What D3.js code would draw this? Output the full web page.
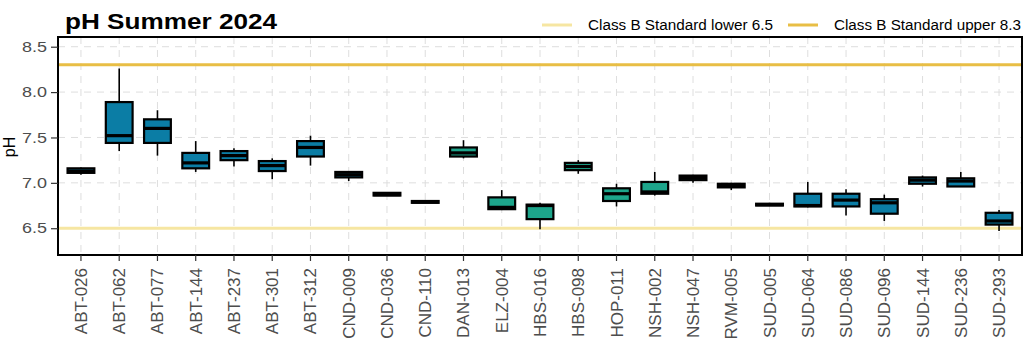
<!DOCTYPE html>
<html><head><meta charset="utf-8">
<script src="https://cdn.jsdelivr.net/npm/d3@7"></script>
<style>body{margin:0;background:#fff;} svg{display:block;font-family:"Liberation Sans",Arial,sans-serif;}</style>
</head><body><svg id="c" width="1024" height="343"></svg>
<script>
const sites = ["ABT-026","ABT-062","ABT-077","ABT-144","ABT-237","ABT-301","ABT-312","CND-009","CND-036","CND-110","DAN-013","ELZ-004","HBS-016","HBS-098","HOP-011","NSH-002","NSH-047","RVM-005","SUD-005","SUD-064","SUD-086","SUD-096","SUD-144","SUD-236","SUD-293"];
const mins    = [7.09,7.35,7.30,7.12,7.18,7.04,7.19,7.02,6.86,6.78,7.27,6.70,6.49,7.10,6.74,6.86,7.00,6.92,6.75,6.73,6.64,6.58,6.96,6.96,6.47];
const q1s     = [7.11,7.44,7.44,7.16,7.25,7.13,7.29,7.06,6.86,6.78,7.29,6.71,6.60,7.14,6.80,6.88,7.03,6.95,6.75,6.74,6.74,6.66,6.99,6.96,6.54];
const medians = [7.13,7.52,7.60,7.22,7.30,7.19,7.39,7.09,6.87,6.79,7.33,6.73,6.75,7.18,6.88,6.90,7.06,6.97,6.76,6.75,6.81,6.78,7.03,7.02,6.58];
const q3s     = [7.16,7.89,7.70,7.33,7.35,7.24,7.46,7.12,6.89,6.80,7.39,6.84,6.76,7.22,6.94,7.01,7.08,6.99,6.77,6.88,6.88,6.82,7.06,7.05,6.67];
const maxs    = [7.17,8.26,7.80,7.46,7.38,7.27,7.52,7.12,6.89,6.80,7.47,6.92,6.78,7.25,6.99,7.12,7.09,7.00,6.78,7.01,6.93,6.87,7.08,7.12,6.70];
const groups  = ["A","A","A","A","A","A","A","A","A","A","B","B","B","B","B","B","B","B","A","A","A","A","A","A","A"];
const yTicks = [6.5,7.0,7.5,8.0,8.5];
const yTickLabels = ["6.5","7.0","7.5","8.0","8.5"];
const standards = [{label:"Class B Standard lower 6.5", value:6.5},{label:"Class B Standard upper 8.3", value:8.3}];

const fillColor = {A:"#0B7DA5", B:"#1DA58B"};
const stdColor = ["#F6E6A2","#E8BE45"];

const svg = d3.select("#c");
const L=58, R=1022, T=37, B=255;
const x = d3.scaleBand().domain(sites).range([L,R]).paddingOuter(0.1).paddingInner(0);
const xc = s => x(s)+x.bandwidth()/2;
const y = d3.scaleLinear().domain([6.205,8.607]).range([B,T]);

// grid
const g = svg.append("g");
g.selectAll(".gy").data(yTicks).join("line")
 .attr("x1",L).attr("x2",R).attr("y1",d=>y(d)).attr("y2",d=>y(d))
 .attr("stroke","#DEDEDE").attr("stroke-width",1).attr("stroke-dasharray","7,6");
g.selectAll(".gx").data(sites).join("line")
 .attr("x1",d=>xc(d)).attr("x2",d=>xc(d)).attr("y1",T).attr("y2",B)
 .attr("stroke","#DEDEDE").attr("stroke-width",1).attr("stroke-dasharray","7,6");

// standards
svg.selectAll(".std").data(standards).join("line")
 .attr("x1",L).attr("x2",R).attr("y1",d=>y(d.value)).attr("y2",d=>y(d.value))
 .attr("stroke",(d,i)=>stdColor[i]).attr("stroke-width",3);

// boxes
const bw = x.bandwidth()*0.7;
const data = sites.map((s,i)=>({s,min:mins[i],q1:q1s[i],med:medians[i],q3:q3s[i],max:maxs[i],g:groups[i]}));
const bx = svg.append("g").selectAll("g").data(data).join("g");
bx.append("line").attr("x1",d=>xc(d.s)).attr("x2",d=>xc(d.s)).attr("y1",d=>y(d.max)).attr("y2",d=>y(d.q3)).attr("stroke","#000").attr("stroke-width",1.6);
bx.append("line").attr("x1",d=>xc(d.s)).attr("x2",d=>xc(d.s)).attr("y1",d=>y(d.q1)).attr("y2",d=>y(d.min)).attr("stroke","#000").attr("stroke-width",1.6);
bx.append("rect").attr("x",d=>xc(d.s)-bw/2).attr("width",bw)
 .attr("y",d=>y(d.q3)).attr("height",d=>Math.max(0.5,y(d.q1)-y(d.q3)))
 .attr("fill",d=>fillColor[d.g]).attr("stroke","#000").attr("stroke-width",2.2);
bx.append("line").attr("x1",d=>xc(d.s)-bw/2).attr("x2",d=>xc(d.s)+bw/2).attr("y1",d=>y(d.med)).attr("y2",d=>y(d.med)).attr("stroke","#000").attr("stroke-width",3.2);

// panel border
svg.append("rect").attr("x",L).attr("y",T).attr("width",R-L).attr("height",B-T).attr("fill","none").attr("stroke","#000").attr("stroke-width",2);

// y axis
const ya = svg.append("g").attr("transform",`translate(${L},0)`)
 .call(d3.axisLeft(y).tickValues(yTicks).tickFormat((d,i)=>yTickLabels[i]).tickSize(7).tickPadding(4));
ya.select(".domain").remove();
ya.selectAll(".tick line").attr("stroke","#333").attr("stroke-width",1.2);
ya.selectAll(".tick text").attr("fill","#4D4D4D").style("font-size","14.5px")
 .attr("textLength",25).attr("lengthAdjust","spacingAndGlyphs");

// x axis
const xa = svg.append("g").attr("transform",`translate(0,${B})`)
 .call(d3.axisBottom(x).tickSize(6).tickPadding(4));
xa.select(".domain").remove();
xa.selectAll(".tick line").attr("stroke","#333").attr("stroke-width",1.2);
xa.selectAll(".tick text").attr("fill","#4D4D4D").style("font-size","17px")
 .attr("transform","rotate(-90)").attr("text-anchor","end")
 .attr("dominant-baseline","central").attr("dy",null).attr("x",-13).attr("y",0.5);

// y title
svg.append("text").attr("transform",`translate(15,${147}) rotate(-90)`).attr("text-anchor","middle")
 .style("font-size","16px").attr("fill","#000").text("pH");

// title
svg.append("text").attr("x",65).attr("y",29).style("font-size","22px").style("font-weight","bold").attr("fill","#000")
 .attr("textLength",212).attr("lengthAdjust","spacingAndGlyphs").text("pH Summer 2024");

// legend
const lg = svg.append("g");
const legX = [542, 788];
const legW = [185, 187];
standards.forEach((d,i)=>{
  lg.append("line").attr("x1",legX[i]).attr("x2",legX[i]+30).attr("y1",25).attr("y2",25).attr("stroke",stdColor[i]).attr("stroke-width",3);
  lg.append("text").attr("x",legX[i]+46).attr("y",30).style("font-size","14px").attr("fill","#000")
   .attr("textLength",legW[i]).attr("lengthAdjust","spacingAndGlyphs").text(d.label);
});
</script></body></html>
